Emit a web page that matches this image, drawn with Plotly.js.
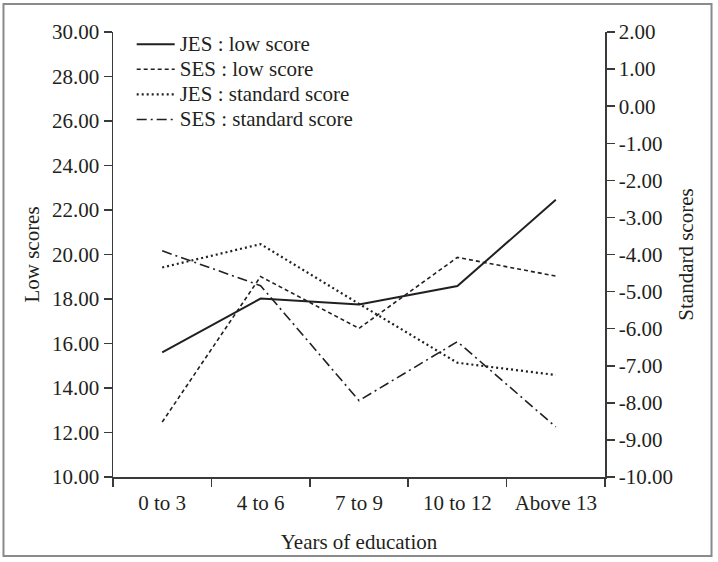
<!DOCTYPE html>
<html>
<head>
<meta charset="utf-8">
<script src="https://cdn.plot.ly/plotly-3.0.1.min.js"></script>
<style>
html,body{margin:0;padding:0;background:#fff;}
#chart{width:718px;height:562px;}
</style>
</head>
<body>
<div id="chart"></div>
<script>
// Data
const categories = ["0 to 3", "4 to 6", "7 to 9", "10 to 12", "Above 13"];
const jesLowScore = [15.60, 18.02, 17.75, 18.58, 22.46];
const sesLowScore = [12.47, 19.01, 16.68, 19.87, 19.03];
const jesStandardScore = [-4.35, -3.72, -5.33, -6.92, -7.25];
const sesStandardScore = [-3.90, -4.84, -7.94, -6.35, -8.65];
const seriesNames = ["JES : low score", "SES : low score", "JES : standard score", "SES : standard score"];

const leftTickVals = [10, 12, 14, 16, 18, 20, 22, 24, 26, 28, 30];
const leftTickText = ["10.00","12.00","14.00","16.00","18.00","20.00","22.00","24.00","26.00","28.00","30.00"];
const rightTickVals = [-10, -9, -8, -7, -6, -5, -4, -3, -2, -1, 0, 1, 2];
const rightTickText = ["-10.00","-9.00","-8.00","-7.00","-6.00","-5.00","-4.00","-3.00","-2.00","-1.00","0.00","1.00","2.00"];

const FONT = "Liberation Serif, Times New Roman, serif";
const INK = "#231f20";
const AX = "#3a3a3a";
const legName = n => "<span style='font-size:21px'>" + n + "</span>";

const traces = [
  {x: categories, y: jesLowScore, name: legName(seriesNames[0]), type: "scatter", mode: "lines",
   line: {color: INK, width: 2, dash: "solid"}, yaxis: "y"},
  {x: categories, y: sesLowScore, name: legName(seriesNames[1]), type: "scatter", mode: "lines",
   line: {color: INK, width: 1.6, dash: "4px,3px"}, yaxis: "y"},
  {x: categories, y: jesStandardScore, name: legName(seriesNames[2]), type: "scatter", mode: "lines",
   line: {color: INK, width: 2.2, dash: "2px,3px"}, yaxis: "y2"},
  {x: categories, y: sesStandardScore, name: legName(seriesNames[3]), type: "scatter", mode: "lines",
   line: {color: INK, width: 1.6, dash: "10px,4px,2px,4px"}, yaxis: "y2"}
];

const layout = {
  width: 718, height: 562,
  margin: {l: 113, r: 113, t: 32, b: 85, pad: 0},
  paper_bgcolor: "#fff", plot_bgcolor: "#fff",
  font: {family: FONT, size: 21, color: INK},
  showlegend: true,
  legend: {x: 0.038, y: 1.012, xanchor: "left", yanchor: "top", bgcolor: "rgba(0,0,0,0)",
           font: {family: FONT, size: 17, color: INK}, itemwidth: 38, tracegroupgap: 0},
  xaxis: {
    type: "category", range: [-0.5, 4.5], tickson: "boundaries",
    showline: true, linecolor: AX, linewidth: 1.5, mirror: false,
    ticks: "outside", ticklen: 8, tickwidth: 1.5, tickcolor: AX,
    ticklabelstandoff: 6,
    showgrid: false, zeroline: false,
    tickfont: {family: FONT, size: 21, color: INK},
    title: {text: "Years of education", font: {family: FONT, size: 21, color: INK}, standoff: 20}
  },
  yaxis: {
    range: [10, 30], tickvals: leftTickVals, ticktext: leftTickText,
    showline: true, linecolor: AX, linewidth: 1.5,
    ticks: "outside", ticklen: 8, tickwidth: 1.5, tickcolor: AX,
    showgrid: false, zeroline: false,
    tickfont: {family: FONT, size: 21, color: INK},
    title: {text: "Low scores", font: {family: FONT, size: 21, color: INK}, standoff: 6}
  },
  yaxis2: {
    range: [-10, 2], tickvals: rightTickVals, ticktext: rightTickText,
    overlaying: "y", side: "right",
    showline: true, linecolor: AX, linewidth: 1.5,
    ticks: "outside", ticklen: 8, tickwidth: 1.5, tickcolor: AX,
    showgrid: false, zeroline: false,
    tickfont: {family: FONT, size: 21, color: INK},
    title: {text: "Standard scores", font: {family: FONT, size: 21, color: INK}, standoff: 6}
  },
  shapes: [{
    type: "rect", xref: "paper", yref: "paper",
    x0: -0.2226, x1: 1.2165, y0: -0.1775, y1: 1.0629,
    line: {color: "#8a8a8a", width: 2}, fillcolor: "rgba(0,0,0,0)", layer: "below"
  }]
};

Plotly.newPlot("chart", traces, layout, {displayModeBar: false, staticPlot: true});
</script>
</body>
</html>
